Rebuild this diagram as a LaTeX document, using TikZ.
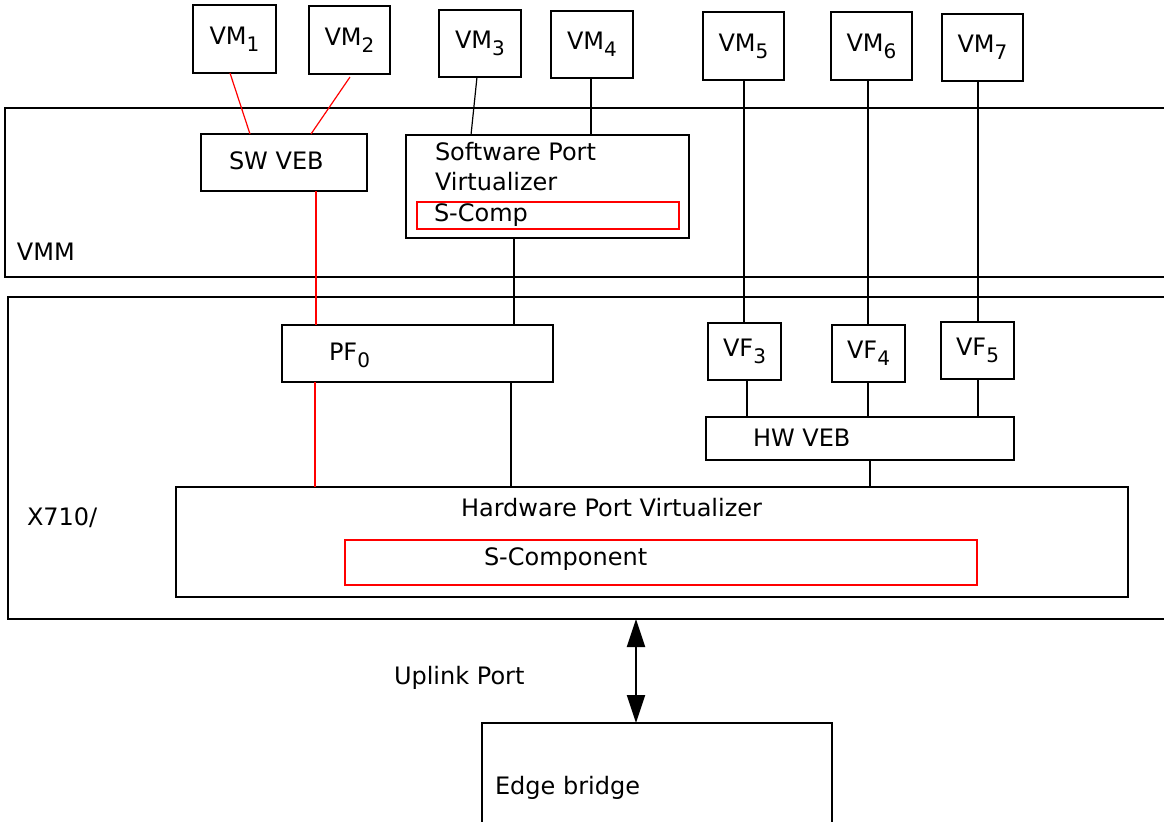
\documentclass[tikz,border=0pt]{standalone}
\usepackage{fontspec}
\setmainfont{DejaVu Sans}
\usetikzlibrary{calc,arrows.meta}
\newcommand{\subs}[1]{\raisebox{-3.5pt}{\fontsize{10}{10}\selectfont #1}}
\begin{document}
\begin{tikzpicture}[x=0.5pt,y=-0.5pt,
  every node/.style={font=\fontsize{12}{14}\selectfont},
  box/.style={draw=black, line width=1pt, inner sep=0pt, outer sep=0pt},
  redbox/.style={draw=red, line width=1pt, inner sep=0pt, outer sep=0pt},
  txt/.style={inner sep=0pt, outer sep=0pt, anchor=base west},
  conn/.style={draw=black, line width=1pt},
  thinconn/.style={draw=black, line width=0.6pt},
  redconn/.style={draw=red, line width=1pt},
  redthin/.style={draw=red, line width=0.6pt},
  link/.style={draw=black, line width=1pt, {Triangle[length=14pt,width=9pt]}-{Triangle[length=14pt,width=9pt]}}
]
\useasboundingbox (0,0) rectangle (1164,821);

% large containers
\node[box, minimum width=587.5pt, minimum height=84.5pt] (vmm) at (592.5,192.5) {};
\node[box, minimum width=586pt, minimum height=161pt] (x710) at (594,458) {};
\node[txt] (tvmm) at (17,260.7) {VMM};
\node[txt] (tx710) at (27,525.7) {X710/};

% VMs
\node[box, minimum width=41.5pt, minimum height=34pt] (vm1) at (234.5,39) {VM\subs{1}};
\node[box, minimum width=40.5pt, minimum height=34pt] (vm2) at (349.5,40) {VM\subs{2}};
\node[box, minimum width=41pt, minimum height=33.5pt] (vm3) at (480,43.5) {VM\subs{3}};
\node[box, minimum width=41pt, minimum height=33.5pt] (vm4) at (592,44.5) {VM\subs{4}};
\node[box, minimum width=40.5pt, minimum height=34pt] (vm5) at (743.5,46) {VM\subs{5}};
\node[box, minimum width=40.5pt, minimum height=34pt] (vm6) at (871.5,46) {VM\subs{6}};
\node[box, minimum width=40.5pt, minimum height=33.5pt] (vm7) at (982.5,47.5) {VM\subs{7}};

% VMM contents
\node[box, minimum width=83pt, minimum height=28.5pt] (swveb) at (284,162.5) {};
\node[txt] (tswveb) at (229,169.3) {SW VEB};
\node[box, minimum width=141.5pt, minimum height=51.5pt] (spv) at (547.5,186.5) {};
\node[redbox, minimum width=131pt, minimum height=13.5pt] (scomp) at (548,215.5) {};
\node[txt] (tspv1) at (435,160.7) {Software Port};
\node[txt] (tspv2) at (435,190.7) {Virtualizer};
\node[txt] (tscomp) at (434,221.7) {S-Comp};

% X710 contents
\node[box, minimum width=135.5pt, minimum height=28.5pt] (pf0) at (417.5,353.5) {};
\node[txt] (tpf0) at (329,360) {PF\subs{0}};
\node[box, minimum width=36.5pt, minimum height=28.5pt] (vf3) at (744.5,351.5) {VF\subs{3}};
\node[box, minimum width=36.5pt, minimum height=28.5pt] (vf4) at (868.5,353.5) {VF\subs{4}};
\node[box, minimum width=36.5pt, minimum height=28.5pt] (vf5) at (977.5,350.5) {VF\subs{5}};
\node[box, minimum width=154pt, minimum height=21.5pt] (hwveb) at (860,438.5) {};
\node[txt] (thwveb) at (753,446.7) {HW VEB};
\node[box, minimum width=476pt, minimum height=55pt] (hpv) at (652,542) {};
\node[txt] (thpv) at (461,516) {Hardware Port Virtualizer};
\node[redbox, minimum width=316pt, minimum height=22.5pt] (scomponent) at (661,562.5) {};
\node[txt] (tscomponent) at (484,565.3) {S-Component};

% Edge bridge
\node[box, minimum width=175pt, minimum height=88.5pt] (edge) at (657,811.5) {};
\node[txt] (tedge) at (495,794) {Edge bridge};
\node[txt] (tuplink) at (394,684) {Uplink Port};

% connectors
\draw[redthin] ($(vm1.south)+(-4.5,0)$) -- ($(swveb.north)+(-34,0)$);
\draw[redthin] ($(vm2.south)+(0.5,3)$) -- ($(swveb.north)+(27,0)$);
\draw[thinconn] ($(vm3.south)+(-3,0)$) -- ($(spv.north)+(-76.5,0)$);
\draw[conn] ($(vm4.south)+(-1,0)$) -- ($(spv.north)+(43.5,0)$);
\draw[redconn] ($(swveb.south)+(32,0)$) -- ($(pf0.north)+(-101.5,0)$);
\draw[conn] ($(spv.south)+(-33.5,0)$) -- ($(pf0.north)+(96.5,0)$);
\draw[redconn] ($(pf0.south)+(-102.5,0)$) -- ($(hpv.north)+(-337,0)$);
\draw[conn] ($(pf0.south)+(93.5,0)$) -- ($(hpv.north)+(-141,0)$);
\draw[conn] ($(vm5.south)+(0.5,0)$) -- ($(vf3.north)+(-0.5,0)$);
\draw[conn] ($(vm6.south)+(-3.5,0)$) -- ($(vf4.north)+(-0.5,0)$);
\draw[conn] ($(vm7.south)+(-4.5,0)$) -- ($(vf5.north)+(0.5,0)$);
\draw[conn] ($(vf3.south)+(2.5,0)$) -- ($(hwveb.north)+(-113,0)$);
\draw[conn] ($(vf4.south)+(-0.5,0)$) -- ($(hwveb.north)+(8,0)$);
\draw[conn] ($(vf5.south)+(0.5,0)$) -- ($(hwveb.north)+(118,0)$);
\draw[conn] ($(hwveb.south)+(10,0)$) -- ($(hpv.north)+(218,0)$);
\draw[link] ($(x710.south)+(42,0)$) -- ($(edge.north)+(-21,0)$);
\end{tikzpicture}
\end{document}
